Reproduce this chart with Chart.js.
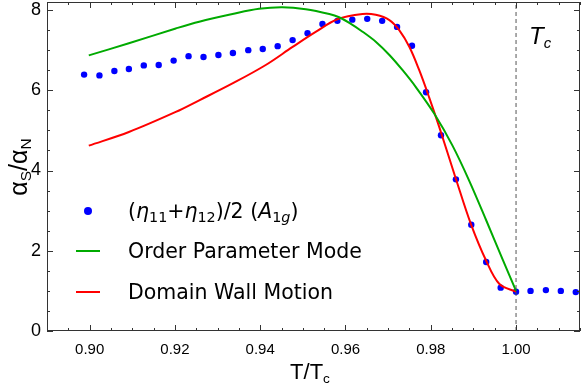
<!DOCTYPE html>
<html>
<head>
<meta charset="utf-8">
<script src="https://cdn.jsdelivr.net/npm/chart.js@4.4.1/dist/chart.umd.min.js"></script>
<style>
  html, body { margin: 0; padding: 0; background: #fff; }
  #wrap { position: relative; width: 581px; height: 389px; }
  .lbl { position: absolute; white-space: nowrap; color: #000; }
  .lbl sub { font-size: 0.62em; vertical-align: -0.3em; line-height: 0; }
  .leg { position: absolute; left: 128px; font: 20.5px "DejaVu Sans"; color: #000; white-space: nowrap; height: 24px; line-height: 24px; }
  .leg sub { font-size: 0.7em; vertical-align: -0.25em; line-height: 0; }
  .sw { position: absolute; left: 76px; width: 24px; height: 2px; }
  .dot { position: absolute; width: 8px; height: 8px; border-radius: 50%; background: #0000ff; }
</style>
</head>
<body>
<div id="wrap">
  <canvas id="chart" width="581" height="389"></canvas>
  <div class="lbl" style="left:18px;top:167px;transform:translate(-50%,-50%) rotate(-90deg);font:25px 'Liberation Sans';">α<sub>S</sub>/α<sub>N</sub></div>
  <div class="lbl" style="left:310px;top:372px;transform:translate(-50%,-50%);font:22px 'Liberation Sans';">T/T<sub>c</sub></div>
  <div class="lbl" style="left:529px;top:22px;font:italic 24px 'Liberation Sans';">T<sub>c</sub></div>

  <div class="dot" style="left:84px;top:207px;"></div>
  <div class="leg" style="top:199px;">(<i>η</i><sub>11</sub>+<i>η</i><sub>12</sub>)/2 (<i>A</i><sub>1<i>g</i></sub>)</div>
  <div class="sw" style="top:250px;background:#00aa00;"></div>
  <div class="leg" style="top:239px;">Order Parameter Mode</div>
  <div class="sw" style="top:291px;background:#ff0000;"></div>
  <div class="leg" style="top:280px;">Domain Wall Motion</div>
</div>
<script>
// measured points (T/Tc, alpha_S/alpha_N)
const dataT = [0.8987, 0.9023, 0.9058, 0.9092, 0.9127, 0.9162, 0.9197, 0.9232, 0.9267, 0.9302,
               0.9336, 0.9372, 0.9406, 0.9441, 0.9476, 0.9511, 0.9546, 0.9581, 0.9616, 0.9651,
               0.9686, 0.9721, 0.9756, 0.9789, 0.9824, 0.9859, 0.9895, 0.9930, 0.9964, 1.0000,
               1.0034, 1.0070, 1.0105, 1.0140];
const dataRatio = [6.39, 6.37, 6.48, 6.53, 6.62, 6.63, 6.74, 6.85, 6.83, 6.88,
                   6.93, 7.00, 7.03, 7.10, 7.25, 7.42, 7.65, 7.73, 7.76, 7.78,
                   7.73, 7.58, 7.11, 5.95, 4.88, 3.78, 2.65, 1.72, 1.08, 0.98,
                   1.00, 1.02, 1.00, 0.97];

// order parameter mode curve
const opT = [0.8998, 0.9092, 0.9202, 0.9257, 0.9335, 0.9397, 0.9452, 0.9507, 0.9562, 0.9585,
             0.9609, 0.9640, 0.9671, 0.9703, 0.9734, 0.9765, 0.9808, 0.9851, 0.9890, 0.9930,
             0.9969, 1.0000];
const opRatio = [6.87, 7.17, 7.54, 7.71, 7.90, 8.03, 8.07, 8.02, 7.90, 7.82,
                 7.68, 7.46, 7.21, 6.88, 6.50, 6.08, 5.42, 4.62, 3.75, 2.76,
                 1.77, 1.00];

// domain wall motion curve
const dwT = [0.8998, 0.9092, 0.9202, 0.9257, 0.9335, 0.9413, 0.9476, 0.9531, 0.9581, 0.9640,
             0.9671, 0.9703, 0.9726, 0.9750, 0.9773, 0.9796, 0.9820, 0.9859, 0.9894, 0.9930,
             0.9961, 1.0000];
const dwRatio = [4.62, 4.96, 5.46, 5.75, 6.17, 6.63, 7.08, 7.46, 7.77, 7.90,
                 7.88, 7.75, 7.50, 7.08, 6.50, 5.83, 5.08, 3.79, 2.67, 1.75,
                 1.17, 0.98];

const tcT = [1.0, 1.0];
const tcRatio = [0, 8.2];

const xTicks = [0.90, 0.92, 0.94, 0.96, 0.98, 1.00];
const yTicks = [0, 2, 4, 6, 8];
const xRange = [0.89, 1.015];
const yRange = [0, 8.2];

const pts = (xs, ys) => xs.map((x, i) => ({ x: x, y: ys[i] }));

// inward ticks on all four sides, like a Mathematica frame
const frameTicks = {
    id: 'frameTicks',
    afterDraw(chart) {
        const { ctx, chartArea: a, scales: { x, y } } = chart;
        ctx.save();
        ctx.strokeStyle = '#333';
        ctx.lineWidth = 1;
        ctx.strokeRect(a.left + 0.5, a.top + 0.5, a.right - a.left - 1, a.bottom - a.top - 1);
        ctx.beginPath();
        for (let i = 0; i * 0.005 + 0.89 <= xRange[1] + 1e-9; i++) {
            const v = 0.89 + i * 0.005;
            const major = xTicks.some(t => Math.abs(t - v) < 1e-6);
            const len = major ? 6 : 3;
            const px = Math.round(x.getPixelForValue(v)) + 0.5;
            ctx.moveTo(px, a.bottom); ctx.lineTo(px, a.bottom - len);
            ctx.moveTo(px, a.top); ctx.lineTo(px, a.top + len);
        }
        for (let v = 0; v <= yRange[1] + 1e-9; v += 0.5) {
            const major = yTicks.includes(v);
            const len = major ? 6 : 3;
            const py = Math.round(y.getPixelForValue(v)) + 0.5;
            ctx.moveTo(a.left, py); ctx.lineTo(a.left + len, py);
            ctx.moveTo(a.right, py); ctx.lineTo(a.right - len, py);
        }
        ctx.stroke();
        ctx.restore();
    }
};

const ctx = document.getElementById('chart').getContext('2d');
new Chart(ctx, {
    type: 'scatter',
    data: {
        datasets: [{
            label: 'Tc',
            data: pts(tcT, tcRatio),
            showLine: true,
            borderColor: '#555',
            borderWidth: 1,
            borderDash: [4, 3],
            pointRadius: 0
        }, {
            label: 'Order Parameter Mode',
            data: pts(opT, opRatio),
            showLine: true,
            tension: 0.35,
            borderColor: '#00aa00',
            borderWidth: 2,
            pointRadius: 0
        }, {
            label: 'Domain Wall Motion',
            data: pts(dwT, dwRatio),
            showLine: true,
            tension: 0.35,
            borderColor: '#ff0000',
            borderWidth: 2,
            pointRadius: 0
        }, {
            label: '(η11+η12)/2 (A1g)',
            data: pts(dataT, dataRatio),
            showLine: false,
            pointRadius: 3.2,
            pointBackgroundColor: '#0000ff',
            pointBorderWidth: 0
        }]
    },
    options: {
        responsive: false,
        animation: false,
        layout: { autoPadding: false, padding: { top: 2, right: 1, left: 0, bottom: 0 } },
        plugins: {
            legend: { display: false },
            tooltip: { enabled: false }
        },
        scales: {
            x: {
                type: 'linear',
                min: xRange[0],
                max: xRange[1],
                afterBuildTicks: s => { s.ticks = xTicks.map(v => ({ value: v })); },
                afterFit: s => { s.height = 58; s.paddingLeft = 0; s.paddingRight = 0; },
                grid: { display: false, drawTicks: false },
                border: { display: false },
                ticks: {
                    padding: 10,
                    color: '#000',
                    font: { family: 'Liberation Sans', size: 15 },
                    callback: v => v.toFixed(2)
                }
            },
            y: {
                type: 'linear',
                min: yRange[0],
                max: yRange[1],
                afterBuildTicks: s => { s.ticks = yTicks.map(v => ({ value: v })); },
                afterFit: s => { s.width = 47; s.paddingTop = 0; s.paddingBottom = 0; },
                grid: { display: false, drawTicks: false },
                border: { display: false },
                ticks: {
                    padding: 6,
                    color: '#000',
                    font: { family: 'Liberation Sans', size: 18 },
                    callback: v => String(v)
                }
            }
        }
    },
    plugins: [frameTicks]
});
</script>
</body>
</html>
